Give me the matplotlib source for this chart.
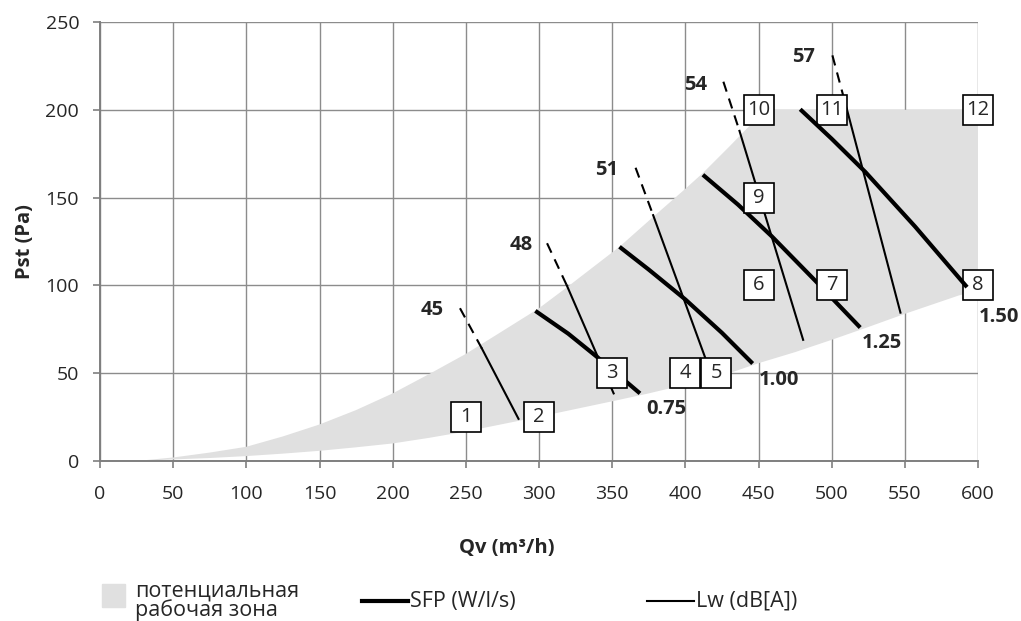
import numpy as np
import matplotlib.pyplot as plt
from matplotlib.lines import Line2D
from matplotlib.patches import Rectangle

plt.rcParams['font.family'] = ['Open Sans', 'DejaVu Sans']

# рабочая зона (граница сверху и снизу)
zone_upper_x = [25, 50, 75, 100, 125, 150, 175, 200, 226, 250, 272, 300, 320, 355,
                378, 400, 412, 430, 444, 454, 600]
zone_upper_y = [0, 2, 4.8, 8.1, 14, 20.8, 29, 38.5, 50, 61, 72.4, 87, 99.5, 122,
                139, 155, 164, 179, 191, 200, 200]
zone_lower_x = [600, 587, 550, 525, 500, 475, 450, 432, 400, 375, 350, 325, 300,
                275, 250, 225, 200, 175, 150, 125, 100, 75, 50, 25]
zone_lower_y = [97, 94.3, 83.8, 76.3, 69, 62, 55.7, 50.6, 43.5, 38.5, 34, 29.6, 25.2,
                21, 16.8, 13.2, 10, 7.8, 5.8, 4.2, 2.8, 1.7, 0.9, 0]

# SFP (W/l/s)
sfp_labels = ['0.75', '1.00', '1.25', '1.50']
sfp_x = [[297.5, 320, 340.5, 369],
         [355, 375, 400, 425, 446],
         [412, 436, 459, 489, 519.5],
         [478.5, 500, 523, 557, 592.5]]
sfp_y = [[85.5, 72.5, 58.7, 38.5],
         [122, 109, 92, 73, 55.5],
         [163, 146, 128, 102.5, 76],
         [200.3, 183.5, 164.6, 133.5, 99]]
sfp_label_xy = [(387, 29.5), (464, 46), (534, 67), (614, 82)]

# Lw (dB[A]): верх, пересечение с зоной, низ
lw_labels = ['45', '48', '51', '54', '57']
lw_x = [[246, 261, 286],
        [305.5, 319, 351],
        [366, 378, 413.5],
        [426, 437, 480.5],
        [500.5, 510.5, 547]]
lw_y = [[87, 64, 24],
        [124, 100, 38.5],
        [167, 140, 59],
        [216, 188, 69],
        [231, 200, 84.5]]
lw_label_xy = [(227, 86), (288, 123), (346, 166), (407, 214), (481, 230)]

# точки 1..12
pt_x = [250, 300, 350, 400, 421, 450, 500, 600, 450, 450, 500, 600]
pt_y = [25, 25, 50, 50, 50, 100, 100, 100, 150, 200, 200, 200]

fig = plt.figure(figsize=(10.21, 6.21), dpi=100)
ax = fig.add_axes([100/1021, 1-461/621, 878/1021, 439/621])

zx = zone_upper_x + zone_lower_x
zy = zone_upper_y + zone_lower_y
ax.fill(zx, zy, color='#e0e0e0', lw=0, zorder=1)

for i in range(len(sfp_labels)):
    z = 6 if i == 3 else 3
    ax.plot(sfp_x[i], sfp_y[i], color='black', lw=3, solid_capstyle='butt',
            solid_joinstyle='round', zorder=z)
    ax.text(*sfp_label_xy[i], sfp_labels[i], fontsize=14.5, fontweight='bold',
            color='#262626', ha='center', va='center', zorder=7)

for i in range(len(lw_labels)):
    ax.plot(lw_x[i][:2], lw_y[i][:2], color='black', lw=1.5, dashes=(5, 3.5), zorder=3)
    ax.plot(lw_x[i][1:], lw_y[i][1:], color='black', lw=1.5, zorder=3)
    ax.text(*lw_label_xy[i], lw_labels[i], fontsize=14.5, fontweight='bold',
            color='#262626', ha='center', va='center', zorder=7)

ax.plot(pt_x, pt_y, 's', ms=21, mfc='white', mec='black', mew=1.2, zorder=5, clip_on=False)
for i in range(len(pt_x)):
    ax.text(pt_x[i], pt_y[i], str(i + 1), fontsize=14.5, color='#262626',
            ha='center', va='center', zorder=7)

ax.set_xlim(0, 600)
ax.set_ylim(0, 250)
ax.set_xticks(np.arange(0, 601, 50))
ax.set_yticks(np.arange(0, 251, 50))
ax.grid(True, color='#8c8c8c', lw=1.0)
ax.set_axisbelow(True)
for s in ['top', 'right']:
    ax.spines[s].set_visible(False)
for s in ['left', 'bottom']:
    ax.spines[s].set_color('#7f7f7f')
    ax.spines[s].set_linewidth(1.4)
ax.tick_params(colors='#7f7f7f', labelcolor='#262626', labelsize=14, length=5, width=1.2)
ax.tick_params(axis='y', pad=10)
ax.tick_params(axis='x', pad=12)

ax.set_xlabel('Qv (m³/h)', fontsize=14.5, fontweight='bold', color='#262626')
ax.xaxis.set_label_coords(0.4636, -0.175)
ax.set_ylabel('Pst (Pa)', fontsize=14.5, fontweight='bold', color='#262626')
ax.yaxis.set_label_coords(-0.074, 0.5)

# легенда
W, H = 1021, 621
fig.add_artist(Rectangle((102/W, 1-607/H), 23/W, 23/H, color='#e0e0e0', transform=fig.transFigure))
fig.text(135/W, 1-601/H, 'потенциальная\nрабочая зона', fontsize=15.5, color='#262626',
         va='center', ha='left', linespacing=0.85)
fig.add_artist(Line2D([362/W, 408/W], [1-601/H]*2, color='black', lw=3, transform=fig.transFigure))
fig.text(410/W, 1-601/H, 'SFP (W/l/s)', fontsize=15.5, color='#262626', va='center', ha='left')
fig.add_artist(Line2D([647/W, 694/W], [1-601/H]*2, color='black', lw=1.5, transform=fig.transFigure))
fig.text(696/W, 1-601/H, 'Lw (dB[A])', fontsize=15.5, color='#262626', va='center', ha='left')

fig.savefig('out.png', dpi=100)
